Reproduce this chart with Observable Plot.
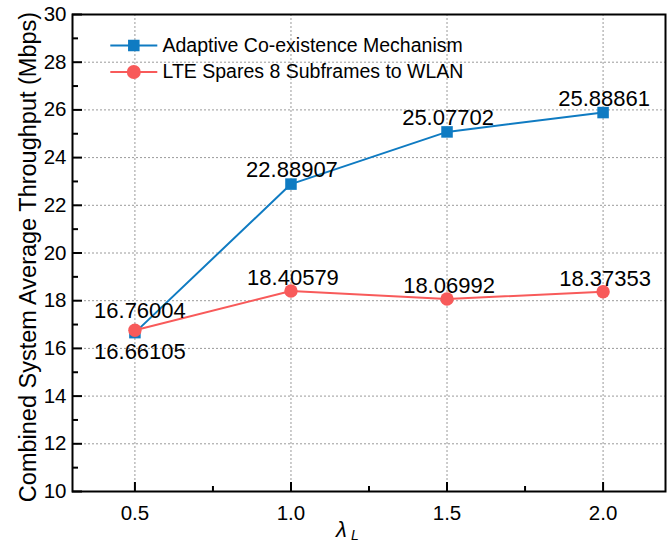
<!DOCTYPE html>
<html>
<head>
<meta charset="utf-8">
<script src="https://cdn.jsdelivr.net/npm/d3@7"></script>
<script src="https://cdn.jsdelivr.net/npm/@observablehq/plot@0.6"></script>
<style>
  html, body { margin: 0; padding: 0; background: #fff; }
  #chart { width: 671px; height: 543px; }
</style>
</head>
<body>
<div id="chart"></div>
<script>
// ---- data ----
const lambdaL = [0.5, 1.0, 1.5, 2.0];
const adaptive = [16.66105, 22.88907, 25.07702, 25.88861];
const lteSpares = [16.76004, 18.40579, 18.06992, 18.37353];
const seriesNames = ["Adaptive Co-existence Mechanism", "LTE Spares 8 Subframes to WLAN"];
const xMajorTicks = [0.5, 1.0, 1.5, 2.0];
const xMinorTicks = [0.75, 1.25, 1.75];
const yMajorTicks = [10, 12, 14, 16, 18, 20, 22, 24, 26, 28, 30];
const yMinorTicks = [11, 13, 15, 17, 19, 21, 23, 25, 27, 29];
const yTitle = "Combined System Average Throughput (Mbps)";

// ---- layout ----
const W = 671, H = 543;
const mL = 72, mR = 6, mT = 14, mB = 52;
const innerW = W - mL - mR, innerH = H - mT - mB;
const blue = "#0f7bc2", red = "#f85a5a";
const font = "Liberation Sans, Arial, Helvetica, sans-serif";

const rowsA = lambdaL.map((x, i) => ({x, y: adaptive[i], label: adaptive[i].toFixed(5), i}));
const rowsL = lambdaL.map((x, i) => ({x, y: lteSpares[i], label: lteSpares[i].toFixed(5), i}));

const hline = { draw(ctx) { ctx.moveTo(-23.5, 0); ctx.lineTo(23.5, 0); } };

const plot = Plot.plot({
  width: W, height: H,
  marginLeft: mL, marginRight: mR, marginTop: mT, marginBottom: mB,
  style: {fontFamily: font, fontSize: "20px", color: "#000", background: "#fff"},
  x: {domain: [0.3, 2.2]},
  y: {domain: [10, 30]},
  marks: [
    Plot.gridX(xMajorTicks, {stroke: "#9a9a9a", strokeOpacity: 1, strokeDasharray: "2,2", strokeWidth: 1}),
    Plot.gridY(yMajorTicks.slice(1, -1), {stroke: "#9a9a9a", strokeOpacity: 1, strokeDasharray: "2,2", strokeWidth: 1}),
    Plot.axisX({ticks: xMajorTicks, tickSize: 0, tickPadding: 14, tickFormat: d3.format(".1f"), label: null, fontSize: 20.5}),
    Plot.axisY({ticks: yMajorTicks, tickSize: 0, tickPadding: 6, tickFormat: d3.format("d"), label: null, fontSize: 20.5}),
    // inward ticks
    Plot.tickX(xMajorTicks, {x: d => d, insetTop: innerH - 9, stroke: "#000", strokeWidth: 2}),
    Plot.tickX(xMinorTicks, {x: d => d, insetTop: innerH - 5, stroke: "#000", strokeWidth: 2}),
    Plot.tickY(yMajorTicks, {y: d => d, insetRight: innerW - 10, stroke: "#000", strokeWidth: 2}),
    Plot.tickY(yMinorTicks, {y: d => d, insetRight: innerW - 6, stroke: "#000", strokeWidth: 2}),
    // series
    Plot.line(rowsA, {x: "x", y: "y", stroke: blue, strokeWidth: 2}),
    Plot.dot(rowsA, {x: "x", y: "y", symbol: "square", r: 6.5, fill: blue, stroke: "none"}),
    Plot.line(rowsL, {x: "x", y: "y", stroke: red, strokeWidth: 2}),
    Plot.dot(rowsL, {x: "x", y: "y", symbol: "circle", r: 6.7, fill: red, stroke: "none"}),
    // data labels
    Plot.text(rowsA.filter(d => d.i > 0), {x: "x", y: "y", text: "label", lineAnchor: "bottom", dy: -7, dx: 1, fontSize: 22, fill: "#000"}),
    Plot.text(rowsA.filter(d => d.i === 0), {x: "x", y: "y", text: "label", lineAnchor: "top", dy: 11, dx: 5, fontSize: 22, fill: "#000"}),
    Plot.text(rowsL.filter(d => d.i > 0), {x: "x", y: "y", text: "label", lineAnchor: "bottom", dy: -6, dx: 2, fontSize: 22, fill: "#000"}),
    Plot.text(rowsL.filter(d => d.i === 0), {x: "x", y: "y", text: "label", lineAnchor: "bottom", dy: -12, dx: 5, fontSize: 22, fill: "#000"}),
    // legend
    Plot.dot([0], {frameAnchor: "top-left", dx: 61.3, dy: 31, symbol: hline, stroke: blue, strokeWidth: 2, fill: "none"}),
    Plot.dot([0], {frameAnchor: "top-left", dx: 61.3, dy: 31, symbol: "square", r: 6.5, fill: blue, stroke: "none"}),
    Plot.text([seriesNames[0]], {frameAnchor: "top-left", dx: 90, dy: 31, textAnchor: "start", lineAnchor: "middle", fontSize: 19.5, fill: "#000"}),
    Plot.dot([0], {frameAnchor: "top-left", dx: 61.3, dy: 57.5, symbol: hline, stroke: red, strokeWidth: 2, fill: "none"}),
    Plot.dot([0], {frameAnchor: "top-left", dx: 61.3, dy: 57.5, symbol: "circle", r: 7, fill: red, stroke: "none"}),
    Plot.text([seriesNames[1]], {frameAnchor: "top-left", dx: 90, dy: 57.5, textAnchor: "start", lineAnchor: "middle", fontSize: 19.5, fill: "#000"}),
    // axis titles
    Plot.text([yTitle], {frameAnchor: "left", rotate: -90, dx: -44.5, dy: 4, textAnchor: "middle", lineAnchor: "middle", fontSize: 23.5, fill: "#000"}),
    Plot.text(["λ"], {frameAnchor: "bottom", dx: -27.5, dy: 45, textAnchor: "middle", lineAnchor: "bottom", fontSize: 22, fontStyle: "italic", fill: "#000"}),
    Plot.text(["L"], {frameAnchor: "bottom", dx: -14, dy: 48, textAnchor: "middle", lineAnchor: "bottom", fontSize: 14, fontStyle: "italic", fill: "#000"}),
    Plot.frame({stroke: "#000", strokeWidth: 2})
  ]
});
document.getElementById("chart").appendChild(plot);
</script>
</body>
</html>
